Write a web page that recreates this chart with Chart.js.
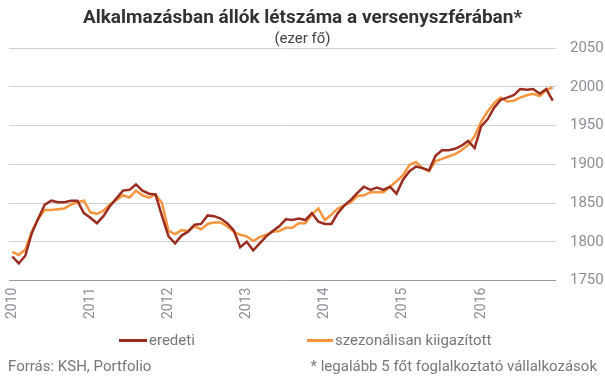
<!DOCTYPE html>
<html lang="hu">
<head>
<meta charset="utf-8">
<script src="https://cdn.jsdelivr.net/npm/chart.js@4/dist/chart.umd.min.js"></script>
<style>
  html, body { margin: 0; padding: 0; background: #fff; }
  body { width: 605px; height: 378px; position: relative; overflow: hidden; font-family: Roboto, sans-serif; }
  #wrap { position: absolute; left: 0; top: 0; width: 605px; height: 378px; }
  .title { position: absolute; left: 0; width: 605px; top: 5px; text-align: center; font-size: 19px; font-weight: bold; color: #333; }
  .subtitle { position: absolute; left: 0; width: 605px; top: 29px; text-align: center; font-size: 15px; color: #444; }
  .legend { position: absolute; top: 331px; font-size: 15px; color: #777; white-space: nowrap; }
  .legend span.sw { display: inline-block; height: 3px; vertical-align: middle; margin-right: 2px; position: relative; top: -1px; }
  .foot { position: absolute; top: 357px; font-size: 15px; color: #777; white-space: nowrap; }
</style>
</head>
<body>
<div id="wrap"><canvas id="employmentChart"></canvas></div>
<div class="title">Alkalmazásban állók létszáma a versenyszférában*</div>
<div class="subtitle">(ezer fő)</div>
<div class="legend" style="left:119px"><span class="sw" style="width:28px;background:#9b2d20"></span>eredeti</div>
<div class="legend" style="left:307px"><span class="sw" style="width:26px;background:#f7953f"></span>szezonálisan kiigazított</div>
<div class="foot" style="left:8px">Forrás: KSH, Portfolio</div>
<div class="foot" style="right:8px">* legalább 5 főt foglalkoztató vállalkozások</div>
<script>
// Monthly data, Jan 2010 - Dec 2016 (thousand persons)
const years = ['2010', '2011', '2012', '2013', '2014', '2015', '2016'];
const eredeti = [
  1781, 1772, 1782, 1811, 1830, 1848, 1853, 1851, 1851, 1853, 1853, 1837,
  1831, 1824, 1833, 1846, 1856, 1866, 1867, 1874, 1866, 1862, 1861, 1833,
  1807, 1798, 1808, 1813, 1822, 1823, 1834, 1833, 1830, 1824, 1815, 1793,
  1800, 1789, 1798, 1807, 1814, 1820, 1829, 1828, 1830, 1828, 1837, 1826,
  1823, 1823, 1837, 1847, 1854, 1863, 1871, 1867, 1870, 1867, 1871, 1862,
  1880, 1891, 1897, 1895, 1892, 1911, 1918, 1918, 1920, 1924, 1930, 1921,
  1949, 1958, 1973, 1983, 1986, 1989, 1997, 1996, 1997, 1991, 1997, 1982
];
const kiigazitott = [
  1787, 1783, 1790, 1813, 1830, 1841, 1841, 1842, 1843, 1848, 1851, 1853,
  1838, 1836, 1840, 1848, 1854, 1860, 1857, 1866, 1860, 1857, 1861, 1850,
  1814, 1810, 1815, 1814, 1820, 1816, 1823, 1825, 1825, 1820, 1813, 1809,
  1807, 1801, 1806, 1809, 1813, 1814, 1818, 1818, 1824, 1824, 1835, 1843,
  1828, 1835, 1843, 1847, 1851, 1859, 1860, 1864, 1864, 1864, 1871, 1878,
  1886, 1899, 1903, 1895, 1891, 1904, 1907, 1910, 1913, 1918, 1925, 1936,
  1955, 1968, 1979, 1986, 1981, 1982, 1986, 1989, 1991, 1988, 1996, 1999
];
const yTicks = [1750, 1800, 1850, 1900, 1950, 2000, 2050];

document.addEventListener('DOMContentLoaded', function() {
  const toPoints = arr => arr.map((v, i) => ({ x: i, y: v }));
  const grey = '#8a8e95';

  new Chart(document.getElementById('employmentChart'), {
    type: 'line',
    data: {
      datasets: [{
        label: 'eredeti',
        data: toPoints(eredeti),
        borderColor: '#9b2d20',
        borderWidth: 2.5,
        pointRadius: 0,
        tension: 0
      }, {
        label: 'szezonálisan kiigazított',
        data: toPoints(kiigazitott),
        borderColor: '#f7953f',
        borderWidth: 2.5,
        pointRadius: 0,
        tension: 0
      }]
    },
    options: {
      responsive: true,
      maintainAspectRatio: false,
      animation: false,
      layout: { padding: { top: 48, left: 9, right: 1, bottom: 52 } },
      plugins: { legend: { display: false }, tooltip: { enabled: false } },
      scales: {
        x: {
          type: 'linear',
          min: -0.5,
          max: 83.5,
          grid: { display: false, drawTicks: false },
          border: { display: false },
          // one tick per January
          afterBuildTicks: axis => { axis.ticks = years.map((y, i) => ({ value: i * 12 })); },
          ticks: {
            autoSkip: false,
            minRotation: 90,
            maxRotation: 90,
            padding: 7,
            color: grey,
            font: { family: 'Roboto', size: 14 },
            callback: (value, index) => years[index]
          }
        },
        y: {
          position: 'right',
          min: yTicks[0],
          max: yTicks[yTicks.length - 1],
          grid: {
            drawTicks: false,
            color: c => c.tick && c.tick.value === 1750 ? '#9a9a9a' : '#d0d0d0'
          },
          border: { display: false },
          afterBuildTicks: axis => { axis.ticks = yTicks.map(v => ({ value: v })); },
          afterFit: axis => { axis.width = 48; },
          ticks: {
            padding: 14,
            color: grey,
            font: { family: 'Roboto', size: 15 },
            callback: value => String(value)
          }
        }
      }
    }
  });
});
</script>
</body>
</html>
